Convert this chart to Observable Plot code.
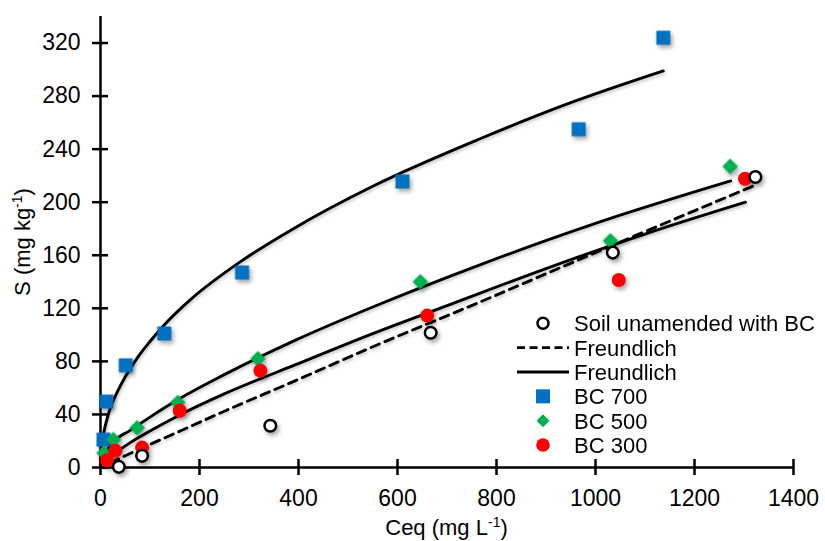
<!DOCTYPE html>
<html>
<head>
<meta charset="utf-8">
<script src="https://cdn.jsdelivr.net/npm/d3@7"></script>
<script src="https://cdn.jsdelivr.net/npm/@observablehq/plot@0.6"></script>
<style>
html, body { margin: 0; padding: 0; background: #fff; }
#chart { position: relative; width: 825px; height: 541px; }
#chart svg g[aria-label="dot"] { filter: drop-shadow(2px 3px 2px rgba(0,0,0,0.35)); }
#chart svg g[aria-label="line"] { filter: drop-shadow(1px 2px 1.5px rgba(0,0,0,0.22)); }
</style>
</head>
<body>
<div id="chart"></div>
<script>
// ---- tick labels ----
const xTicks = [0, 200, 400, 600, 800, 1000, 1200, 1400];
const yTicks = [0, 40, 80, 120, 160, 200, 240, 280, 320];

// ---- observed data (Ceq, S) ----
const soilC  = [37, 84, 343, 667, 1035, 1323];
const soilS  = [0.5, 8.8, 31.5, 101.6, 162, 219];
const bc700C = [6, 12, 51, 129, 286, 610, 966, 1137];
const bc700S = [21, 49.7, 77, 101, 147, 215.6, 255, 324];
const bc500C = [7, 26, 74, 156, 318, 646, 1030, 1272];
const bc500S = [11, 21, 30, 49, 82, 140, 171, 227];
const bc300C = [13.5, 30, 84, 160, 323, 660, 1047, 1302];
const bc300S = [5.5, 12.6, 15, 42.8, 73, 114.5, 141.4, 217.7];

// ---- Freundlich curves ----
const fitSoilC  = [20, 50, 100, 162, 250, 394, 550, 768, 1000, 1321];
const fitSoilS  = [3.6, 8.9, 17.4, 27.7, 42.4, 65.5, 91, 125, 162, 212.6];
const fit700C   = [0.3, 1, 3, 6, 10, 15, 21, 34, 51, 75, 100, 130, 180, 286, 394, 550, 768, 950, 1137];
const fit700S   = [6, 11, 18, 25, 32, 39, 46, 57, 69, 83, 95, 108, 126, 156, 181, 212, 248, 275, 299];
const fit500C   = [5, 10, 25, 60, 100, 160, 250, 394, 550, 768, 1000, 1273];
const fit500S   = [7, 11, 19, 28, 38, 52, 70, 96, 121, 153, 184, 216];
const fit300C   = [10, 30, 57, 100, 162, 250, 394, 550, 707, 900, 1100, 1303];
const fit300S   = [5, 11, 18, 27.5, 40, 55.5, 77.5, 101, 123, 150, 176, 200];

// ---- legend labels ----
const legendLabels = ["Soil unamended with BC", "Freundlich", "Freundlich", "BC 700", "BC 500", "BC 300"];
const legendKinds  = ["open", "dash", "solid", "square", "diamond", "circle"];

const pts = (C, S) => C.map((c, i) => ({c, s: S[i]}));

const BLUE = "#0070C0", GREEN = "#00B050", RED = "#FF0000";
const FONT = "'Liberation Sans', Arial, sans-serif";

const chart = Plot.plot({
  width: 825,
  height: 541,
  marginLeft: 100,
  marginRight: 32,
  marginTop: 16,
  marginBottom: 74,
  style: {fontFamily: FONT, fontSize: "23px", color: "#000", background: "#fff", overflow: "visible"},
  x: {domain: [0, 1400], ticks: xTicks, tickSize: 0, tickPadding: 22.5, label: null, tickFormat: d => String(d)},
  y: {domain: [0, 340], ticks: yTicks, tickSize: 0, tickPadding: 20, label: null, tickFormat: d => String(d)},
  marks: [
    Plot.ruleX([0], {stroke: "#000", strokeWidth: 2.5}),
    Plot.ruleY([0], {stroke: "#000", strokeWidth: 2.5}),
    Plot.ruleX(xTicks, {y1: 0, y2: 0, insetTop: -8, insetBottom: -8, stroke: "#000", strokeWidth: 2.5}),
    Plot.ruleY(yTicks, {x1: 0, x2: 0, insetLeft: -8, insetRight: -8, stroke: "#000", strokeWidth: 2.5}),
    Plot.line(pts(fitSoilC, fitSoilS), {x: "c", y: "s", stroke: "#000", strokeWidth: 2.9, strokeDasharray: "9,6", curve: "monotone-x"}),
    Plot.line(pts(fit700C, fit700S), {x: "c", y: "s", stroke: "#000", strokeWidth: 2.9, curve: "monotone-x"}),
    Plot.line(pts(fit500C, fit500S), {x: "c", y: "s", stroke: "#000", strokeWidth: 2.9, curve: "monotone-x"}),
    Plot.line(pts(fit300C, fit300S), {x: "c", y: "s", stroke: "#000", strokeWidth: 2.9, curve: "monotone-x"}),
    Plot.dot(pts(bc700C, bc700S), {x: "c", y: "s", symbol: "square", r: 7.9, fill: BLUE, stroke: "none"}),
    Plot.dot(pts(bc500C, bc500S), {x: "c", y: "s", symbol: "diamond2", r: 7, fill: GREEN, stroke: "none"}),
    Plot.dot(pts(bc300C, bc300S), {x: "c", y: "s", r: 7, fill: RED, stroke: "none"}),
    Plot.dot(pts(soilC, soilS), {x: "c", y: "s", r: 5.8, fill: "#fff", stroke: "#000", strokeWidth: 2.5})
  ]
});

document.getElementById("chart").appendChild(chart);

const svg = d3.select(chart);

// axis titles
const xt = svg.append("text")
  .attr("x", 446.5).attr("y", 535)
  .attr("text-anchor", "middle")
  .style("font-family", FONT).style("font-size", "22px").attr("fill", "#000");
xt.append("tspan").text("Ceq (mg L");
xt.append("tspan").attr("dy", -8).style("font-size", "14px").text("-1");
xt.append("tspan").attr("dy", 8).text(")");

const yt = svg.append("text")
  .attr("transform", "translate(30,242) rotate(-90)")
  .attr("text-anchor", "middle")
  .style("font-family", FONT).style("font-size", "22px").attr("fill", "#000");
yt.append("tspan").text("S (mg kg");
yt.append("tspan").attr("dy", -8).style("font-size", "14px").text("-1");
yt.append("tspan").attr("dy", 8).text(")");

// legend
const lg = svg.append("g");
legendLabels.forEach((label, i) => {
  const kind = legendKinds[i];
  const cy = 323.3 + i * 24.35;
  const cx = 543;
  if (kind === "open") {
    lg.append("circle").attr("cx", cx).attr("cy", cy).attr("r", 5.5).attr("fill", "#fff").attr("stroke", "#000").attr("stroke-width", 2.5);
  } else if (kind === "dash" || kind === "solid") {
    lg.append("line").attr("x1", 517).attr("x2", 569).attr("y1", cy).attr("y2", cy)
      .attr("stroke", "#000").attr("stroke-width", 2.9)
      .attr("stroke-dasharray", kind === "dash" ? "8,4.5" : null);
  } else if (kind === "square") {
    lg.append("rect").attr("x", cx - 7).attr("y", cy - 7).attr("width", 14).attr("height", 14).attr("fill", BLUE);
  } else if (kind === "diamond") {
    lg.append("path").attr("d", `M${cx},${cy - 6.5}L${cx + 6.5},${cy}L${cx},${cy + 6.5}L${cx - 6.5},${cy}Z`).attr("fill", GREEN);
  } else {
    lg.append("circle").attr("cx", cx).attr("cy", cy).attr("r", 6.8).attr("fill", RED);
  }
  lg.append("text").attr("x", 574).attr("y", cy).attr("dy", "0.36em")
    .attr("text-anchor", "start")
    .style("font-family", FONT).style("font-size", "22px")
    .attr("fill", "#000").text(label);
});
</script>
</body>
</html>
